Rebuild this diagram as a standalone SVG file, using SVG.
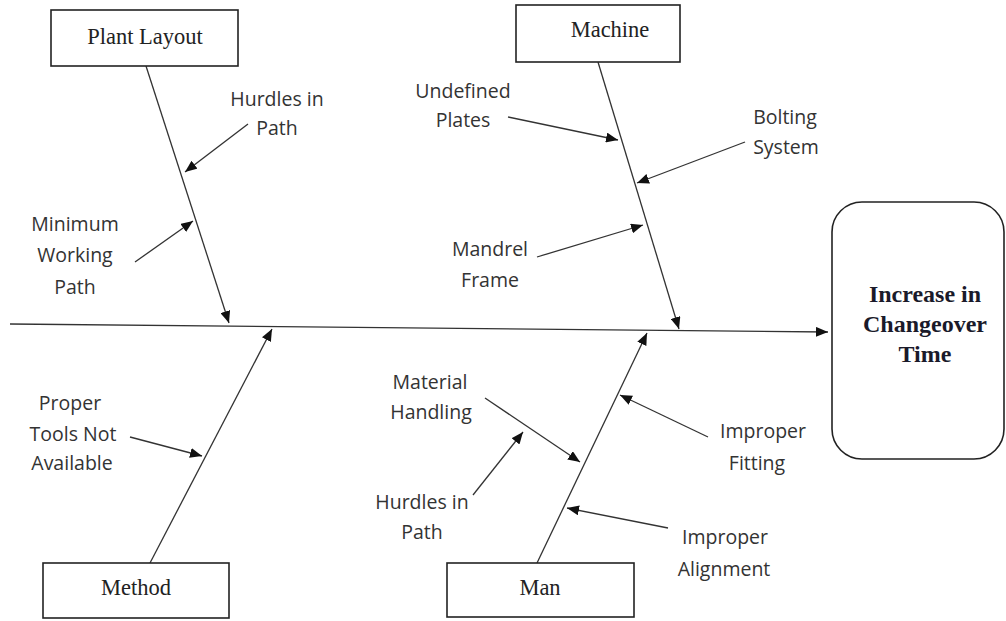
<svg xmlns="http://www.w3.org/2000/svg" width="1006" height="621" viewBox="0 0 1006 621">
<style>
.box{fill:#fff;stroke:#222;stroke-width:1.6}
.bl{font-family:"Liberation Serif","Times New Roman",serif;font-size:22.5px;fill:#222;text-anchor:middle}
.out{font-family:"Liberation Serif","Times New Roman",serif;font-size:24px;font-weight:bold;fill:#1a1a2a;text-anchor:middle}
.lb{font-family:"Open Sans","Liberation Sans",sans-serif;font-size:19.5px;fill:#333;text-anchor:middle}
.ln{stroke:#333;stroke-width:1.3;fill:none;marker-end:url(#ah)}
</style>
<defs>
<marker id="ah" markerUnits="userSpaceOnUse" markerWidth="14" markerHeight="10" refX="12" refY="5" orient="auto">
<path d="M0,0 L12,5 L0,10 Z" fill="#111"/>
</marker>
</defs>
<rect width="1006" height="621" fill="#fff"/>
<g id="connectors">
<line class="ln" x1="10" y1="324" x2="828" y2="332"/>
<line class="ln" x1="146" y1="66" x2="229" y2="323"/>
<line class="ln" x1="598" y1="62" x2="679" y2="329"/>
<line class="ln" x1="150" y1="563" x2="272" y2="329"/>
<line class="ln" x1="537" y1="563" x2="647" y2="333"/>
<line class="ln" x1="248" y1="124" x2="185" y2="172"/>
<line class="ln" x1="135" y1="262" x2="193" y2="221"/>
<line class="ln" x1="508" y1="117" x2="618" y2="140"/>
<line class="ln" x1="745" y1="142" x2="637" y2="183"/>
<line class="ln" x1="537" y1="257" x2="643" y2="225"/>
<line class="ln" x1="130" y1="437" x2="202" y2="456"/>
<line class="ln" x1="485" y1="398" x2="580" y2="462"/>
<line class="ln" x1="473" y1="495" x2="523" y2="432"/>
<line class="ln" x1="708" y1="437" x2="620" y2="395"/>
<line class="ln" x1="668" y1="528" x2="567" y2="508"/>
</g>
<g id="plant-layout">
<rect class="box" x="51" y="10" width="187" height="56"/>
<text class="bl" x="145" y="44">Plant Layout</text>
</g>
<g id="machine">
<rect class="box" x="516" y="5" width="164" height="57"/>
<text class="bl" x="610" y="37">Machine</text>
</g>
<g id="method">
<rect class="box" x="43" y="563" width="186" height="55"/>
<text class="bl" x="136" y="595">Method</text>
</g>
<g id="man">
<rect class="box" x="447" y="563" width="187" height="54"/>
<text class="bl" x="540" y="595">Man</text>
</g>
<g id="outcome">
<rect class="box" x="832" y="202" width="172" height="257" rx="30" ry="30"/>
<text class="out" x="925" y="302">Increase in</text>
<text class="out" x="925" y="332">Changeover</text>
<text class="out" x="925" y="362">Time</text>
</g>
<g id="hurdles-plant">
<text class="lb" x="277" y="106">Hurdles in</text>
<text class="lb" x="277" y="135">Path</text>
</g>
<g id="minimum-working-path">
<text class="lb" x="75" y="231">Minimum</text>
<text class="lb" x="75" y="262">Working</text>
<text class="lb" x="75" y="294">Path</text>
</g>
<g id="undefined-plates">
<text class="lb" x="463" y="98">Undefined</text>
<text class="lb" x="463" y="127">Plates</text>
</g>
<g id="bolting-system">
<text class="lb" x="785" y="124">Bolting</text>
<text class="lb" x="786" y="154">System</text>
</g>
<g id="mandrel-frame">
<text class="lb" x="490" y="256">Mandrel</text>
<text class="lb" x="490" y="287">Frame</text>
</g>
<g id="proper-tools">
<text class="lb" x="70" y="410">Proper</text>
<text class="lb" x="73" y="441">Tools Not</text>
<text class="lb" x="72" y="470">Available</text>
</g>
<g id="material-handling">
<text class="lb" x="430" y="389">Material</text>
<text class="lb" x="431" y="419">Handling</text>
</g>
<g id="hurdles-man">
<text class="lb" x="422" y="509">Hurdles in</text>
<text class="lb" x="422" y="539">Path</text>
</g>
<g id="improper-fitting">
<text class="lb" x="763" y="438">Improper</text>
<text class="lb" x="757" y="470">Fitting</text>
</g>
<g id="improper-alignment">
<text class="lb" x="725" y="544">Improper</text>
<text class="lb" x="724" y="576">Alignment</text>
</g>
</svg>
